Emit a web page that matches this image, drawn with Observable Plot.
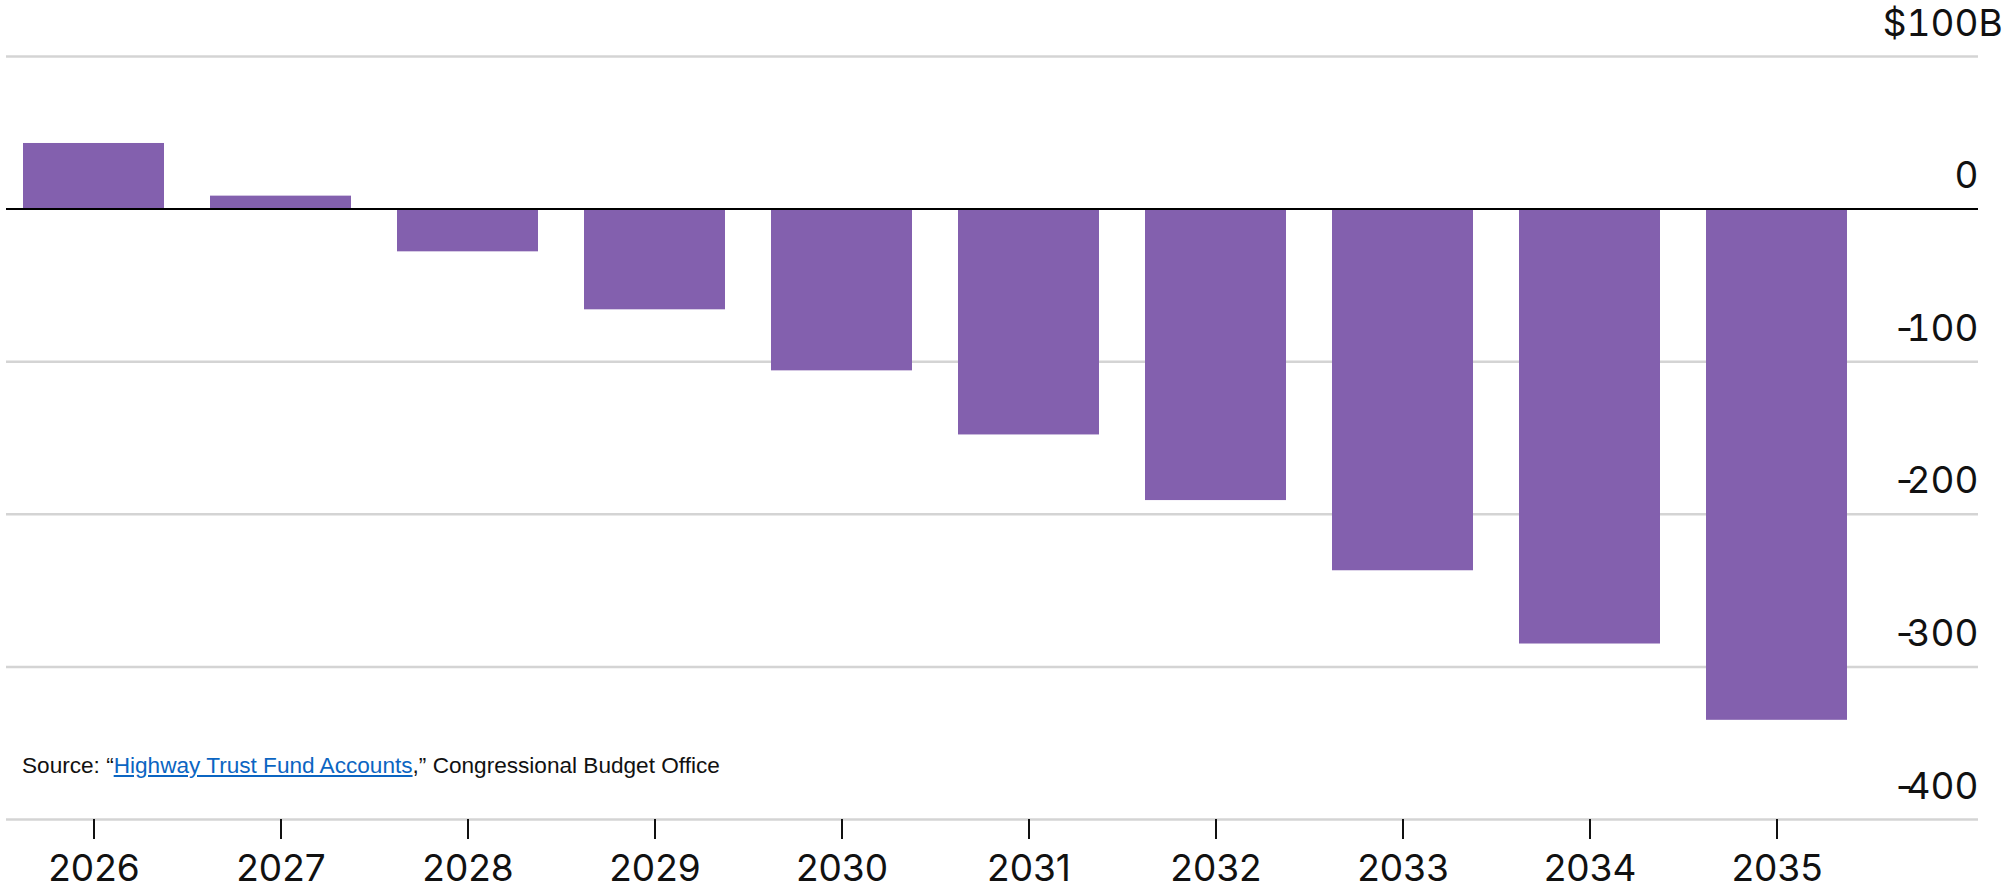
<!DOCTYPE html>
<html><head><meta charset="utf-8">
<script src="https://cdn.jsdelivr.net/npm/d3@7"></script>
<script src="https://cdn.jsdelivr.net/npm/@observablehq/plot@0.6"></script>
<style>
html,body{margin:0;padding:0;background:#fff;}
#wrap{position:relative;width:2006px;height:889px;overflow:hidden;}
#source{position:absolute;left:22px;top:754px;font-family:"Liberation Sans",Arial,sans-serif;font-size:22.6px;line-height:23px;color:#111;white-space:nowrap;}
#source a{color:#0b65c2;text-decoration:underline;}
</style></head><body>
<div id="wrap"><div id="chart"></div><div id="source">Source: “<a href="#">Highway Trust Fund Accounts</a>,” Congressional Budget Office</div></div>
<script>
const years = ["2026","2027","2028","2029","2030","2031","2032","2033","2034","2035"];
const values = [43, 8.5, -28, -66, -106, -148, -191, -237, -285, -335];
const yTicks = [100, 0, -100, -200, -300, -400];
const yTickLabels = ["$100", "0", "-100", "-200", "-300", "-400"];
const unitSuffix = "B";

const data = years.map((year, i) => ({year, value: values[i]}));

const plot = Plot.plot({
  width: 2006, height: 889,
  marginLeft: 6, marginRight: 28, marginTop: 56, marginBottom: 70,
  style: {fontFamily: "Inter, 'Liberation Sans', sans-serif", fontSize: "37px", color: "#111", background: "white"},
  x: {type: "band", domain: years, range: [21, 1849], paddingInner: 0.245, paddingOuter: 0},
  y: {domain: [-400, 100]},
  marks: [
    Plot.ruleY(yTicks.filter(d => d !== 0), {stroke: "#d4d4d4", strokeWidth: 2.5}),
    Plot.barY(data, {x: "year", y: "value", fill: "#8360ae"}),
    Plot.ruleY([0], {stroke: "#000", strokeWidth: 2}),
    Plot.axisY(yTicks, {anchor: "right", tickSize: 0, tickPadding: 0, textAnchor: "end", lineAnchor: "bottom", dy: -21, label: null, fontSize: 37,
      tickFormat: d => yTickLabels[yTicks.indexOf(d)]}),
    Plot.text([100], {y: d => d, text: () => unitSuffix, frameAnchor: "right", textAnchor: "start", lineAnchor: "bottom", dy: -21, fontSize: 37, fill: "#111"}),
    Plot.axisX({anchor: "bottom", tickSize: 20, tickPadding: 15, strokeWidth: 2, label: null, fontSize: 37})
  ]
});
// tighten the hyphen of negative y tick labels
plot.querySelectorAll('g[aria-label="y-axis tick label"] text').forEach(t => {
  const s = t.textContent;
  if (s.startsWith("-")) {
    t.textContent = "";
    const ns = "http://www.w3.org/2000/svg";
    const h = document.createElementNS(ns, "tspan");
    h.textContent = "-";
    h.setAttribute("letter-spacing", "-10");
    const r = document.createElementNS(ns, "tspan");
    r.textContent = s.slice(1);
    t.appendChild(h); t.appendChild(r);
  }
});
document.getElementById("chart").appendChild(plot);
</script>
</body></html>
